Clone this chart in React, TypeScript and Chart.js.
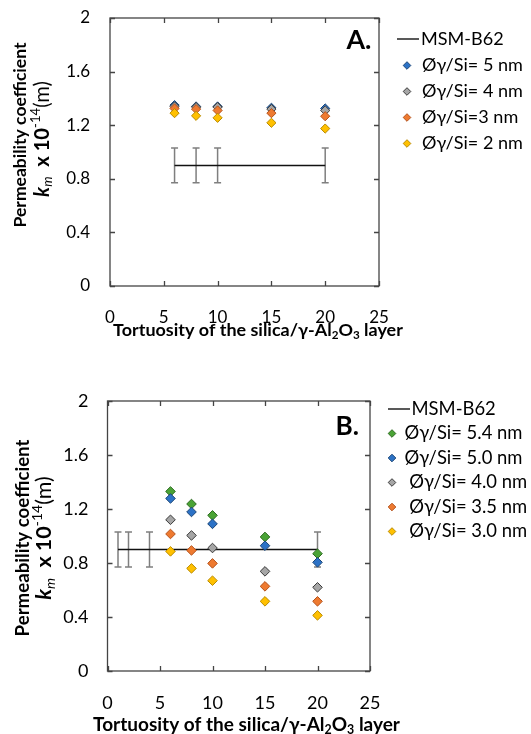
import React, { useEffect, useRef } from 'react';
import { Chart, registerables } from 'chart.js';
Chart.register(...registerables);

// ---------- data ----------
const xTickStep = 5;
const xMax = 25;
const yTickStep = 0.4;
const yMax = 2;

const tortuosityA = [6, 8, 10, 15, 20];
const seriesA_5nm = [1.35, 1.34, 1.34, 1.33, 1.325];
const seriesA_4nm = [1.34, 1.335, 1.335, 1.32, 1.31];
const seriesA_3nm = [1.325, 1.32, 1.31, 1.29, 1.267];
const seriesA_2nm = [1.29, 1.27, 1.255, 1.218, 1.175];
const msmA_x = [6, 8, 10, 20];
const msmA_y = [0.9, 0.9, 0.9, 0.9];
const msmA_err = [0.13, 0.13, 0.13, 0.13];

const tortuosityB = [6, 8, 10, 15, 20];
const seriesB_54 = [1.33, 1.237, 1.153, 0.993, 0.869];
const seriesB_50 = [1.278, 1.178, 1.09, 0.928, 0.805];
const seriesB_40 = [1.12, 1.004, 0.911, 0.738, 0.62];
const seriesB_35 = [1.015, 0.893, 0.797, 0.627, 0.516];
const seriesB_30 = [0.886, 0.76, 0.669, 0.516, 0.412];
const msmB_x = [1, 2, 4, 20];
const msmB_y = [0.9, 0.9, 0.9, 0.9];
const msmB_err = [0.13, 0.13, 0.13, 0.13];

const labelsA = ['Øγ/Si= 5 nm', 'Øγ/Si= 4 nm', 'Øγ/Si=3 nm', 'Øγ/Si= 2 nm'];
const labelsB = ['Øγ/Si= 5.4 nm', 'Øγ/Si= 5.0 nm', ' Øγ/Si= 4.0 nm', ' Øγ/Si= 3.5 nm', ' Øγ/Si= 3.0 nm'];
const msmLabel = 'MSM-B62';

// ---------- styles ----------
const FONT = "Lato, 'Noto Sans', sans-serif";
const COLORS = {
  green: { fill: '#4aa335', stroke: '#2c6a1f' },
  blue: { fill: '#2c72c6', stroke: '#1c4676' },
  gray: { fill: '#a6a6a6', stroke: '#3a3a3a' },
  orange: { fill: '#ee7a30', stroke: '#b4521c' },
  yellow: { fill: '#ffc000', stroke: '#b88a00' },
};

type Seg = { t: string; w: string; style?: string; scale?: number; dy?: number };

function segFont(s: Seg, size: number) {
  return `${s.style || 'normal'} ${s.w} ${(size * (s.scale || 1)).toFixed(2)}px ${FONT}`;
}
function segsWidth(ctx: CanvasRenderingContext2D, segs: Seg[], size: number) {
  let w = 0;
  for (const s of segs) {
    ctx.font = segFont(s, size);
    w += ctx.measureText(s.t).width;
  }
  return w;
}
function fitSize(ctx: CanvasRenderingContext2D, segs: Seg[], target: number) {
  const w = segsWidth(ctx, segs, 20);
  return (20 * target) / w;
}
function drawSegs(ctx: CanvasRenderingContext2D, segs: Seg[], size: number, x: number, y: number, align: 'center' | 'left') {
  const total = segsWidth(ctx, segs, size);
  let cx = align === 'center' ? x - total / 2 : x;
  ctx.textBaseline = 'middle';
  ctx.textAlign = 'left';
  for (const s of segs) {
    ctx.font = segFont(s, size);
    ctx.fillText(s.t, cx, y + (s.dy || 0) * size);
    cx += ctx.measureText(s.t).width;
  }
}

type Series = { label: string; values: number[]; color: { fill: string; stroke: string } };
type Panel = {
  H: number;
  plot: { left: number; right: number; top: number; bottom: number };
  x: number[];
  series: Series[];
  msmX: number[];
  msmY: number[];
  msmErr: number[];
  pointR: number;
  tickFont: number;
  yPad: number;
  xPad: number;
  letter: { t: string; x: number; y: number; w: number };
  xTitle: { x: number; y: number; w: number };
  yTitle1: { x: number; y: number; w: number };
  yTitle2: { x: number; y: number; w: number };
  legend: { rows: number[]; lineX1: number; lineX2: number; msmTextX: number; markerX: number; textX: number; fitLabel: string; fitW: number };
};

const panelA: Panel = {
  H: 367,
  plot: { left: 110, right: 379, top: 18, bottom: 286 },
  x: tortuosityA,
  series: [
    { label: labelsA[0], values: seriesA_5nm, color: COLORS.blue },
    { label: labelsA[1], values: seriesA_4nm, color: COLORS.gray },
    { label: labelsA[2], values: seriesA_3nm, color: COLORS.orange },
    { label: labelsA[3], values: seriesA_2nm, color: COLORS.yellow },
  ],
  msmX: msmA_x,
  msmY: msmA_y,
  msmErr: msmA_err,
  pointR: 4.6,
  tickFont: 17,
  yPad: 20,
  xPad: 21,
  letter: { t: 'A.', x: 346.5, y: 40, w: 25 },
  xTitle: { x: 258, y: 330, w: 290 },
  yTitle1: { x: 20, y: 135, w: 185 },
  yTitle2: { x: 42, y: 139, w: 148 },
  legend: { rows: [39, 65.5, 91.5, 117.5, 143.5], lineX1: 397, lineX2: 419, msmTextX: 421, markerX: 407, textX: 422, fitLabel: 'Øγ/Si= 5 nm', fitW: 101 },
};

const panelB: Panel = {
  H: 367,
  plot: { left: 107.5, right: 370, top: 34, bottom: 304 },
  x: tortuosityB,
  series: [
    { label: labelsB[0], values: seriesB_54, color: COLORS.green },
    { label: labelsB[1], values: seriesB_50, color: COLORS.blue },
    { label: labelsB[2], values: seriesB_40, color: COLORS.gray },
    { label: labelsB[3], values: seriesB_35, color: COLORS.orange },
    { label: labelsB[4], values: seriesB_30, color: COLORS.yellow },
  ],
  msmX: msmB_x,
  msmY: msmB_y,
  msmErr: msmB_err,
  pointR: 4.8,
  tickFont: 18,
  yPad: 19,
  xPad: 21,
  letter: { t: 'B.', x: 335.5, y: 59.5, w: 23.5 },
  xTitle: { x: 246.5, y: 358, w: 307 },
  yTitle1: { x: 22.5, y: 171, w: 197 },
  yTitle2: { x: 44, y: 171, w: 145 },
  legend: { rows: [42, 66.5, 91, 115.5, 140, 164.5], lineX1: 388, lineX2: 410, msmTextX: 411.5, markerX: 392, textX: 404.5, fitLabel: 'Øγ/Si= 5.4 nm', fitW: 118 },
};

function diamond(ctx: CanvasRenderingContext2D, x: number, y: number, r: number, fill: string, stroke: string) {
  ctx.beginPath();
  ctx.moveTo(x, y - r);
  ctx.lineTo(x + r, y);
  ctx.lineTo(x, y + r);
  ctx.lineTo(x - r, y);
  ctx.closePath();
  ctx.fillStyle = fill;
  ctx.fill();
  ctx.lineWidth = 1;
  ctx.strokeStyle = stroke;
  ctx.stroke();
}

function fmtTick(v: number) {
  return String(Number(Number(v).toFixed(1)));
}

function buildConfig(p: Panel): any {
  const W = 531;
  const datasets: any[] = [
    {
      type: 'line',
      label: msmLabel,
      data: p.msmX.map((x, i) => ({ x, y: p.msmY[i] })),
      borderColor: '#111',
      borderWidth: 1.5,
      pointRadius: 0,
      showLine: true,
      fill: false,
      order: 50,
    },
  ];
  p.series.forEach((s, i) => {
    datasets.push({
      type: 'scatter',
      label: s.label,
      data: p.x.map((x, j) => ({ x, y: s.values[j] })),
      pointStyle: 'rectRot',
      pointRadius: p.pointR,
      pointHoverRadius: p.pointR,
      backgroundColor: s.color.fill,
      borderColor: s.color.stroke,
      borderWidth: 1,
      order: 20 - i,
    });
  });

  const decor = {
    id: 'decor',
    beforeDatasetsDraw(chart: any) {
      const ctx: CanvasRenderingContext2D = chart.ctx;
      const xs = chart.scales.x;
      const ys = chart.scales.y;
      ctx.save();
      ctx.strokeStyle = '#7f7f7f';
      ctx.lineWidth = 1.5;
      p.msmX.forEach((xv, i) => {
        const px = xs.getPixelForValue(xv);
        const t = ys.getPixelForValue(p.msmY[i] + p.msmErr[i]);
        const b = ys.getPixelForValue(p.msmY[i] - p.msmErr[i]);
        ctx.beginPath();
        ctx.moveTo(px, t);
        ctx.lineTo(px, b);
        ctx.moveTo(px - 3.5, t);
        ctx.lineTo(px + 3.5, t);
        ctx.moveTo(px - 3.5, b);
        ctx.lineTo(px + 3.5, b);
        ctx.stroke();
      });
      ctx.restore();
    },
    afterDraw(chart: any) {
      const ctx: CanvasRenderingContext2D = chart.ctx;
      const a = chart.chartArea;
      const xs = chart.scales.x;
      const ys = chart.scales.y;
      ctx.save();
      // box
      ctx.strokeStyle = '#444';
      ctx.lineWidth = 1.3;
      ctx.strokeRect(a.left, a.top, a.right - a.left, a.bottom - a.top);
      // inward ticks on four sides
      ctx.beginPath();
      for (let v = 0; v <= xMax + 1e-9; v += xTickStep) {
        const px = Math.round(xs.getPixelForValue(v)) + 0.5;
        ctx.moveTo(px, a.bottom);
        ctx.lineTo(px, a.bottom - 5);
        ctx.moveTo(px, a.top);
        ctx.lineTo(px, a.top + 5);
      }
      for (let k = 0; k * yTickStep <= yMax + 1e-9; k++) {
        const py = Math.round(ys.getPixelForValue(k * yTickStep)) + 0.5;
        ctx.moveTo(a.left, py);
        ctx.lineTo(a.left + 5, py);
        ctx.moveTo(a.right, py);
        ctx.lineTo(a.right - 5, py);
      }
      ctx.stroke();

      ctx.fillStyle = '#000';
      // panel letter
      const letterSeg: Seg[] = [{ t: p.letter.t, w: 'bold' }];
      const ls = fitSize(ctx, letterSeg, p.letter.w);
      drawSegs(ctx, letterSeg, ls, p.letter.x, p.letter.y, 'left');

      // x title
      const xt: Seg[] = [
        { t: 'Tortuosity of the silica/γ-Al', w: 'bold' },
        { t: '2', w: 'bold', scale: 0.65, dy: 0.28 },
        { t: 'O', w: 'bold' },
        { t: '3', w: 'bold', scale: 0.65, dy: 0.28 },
        { t: ' layer', w: 'bold' },
      ];
      drawSegs(ctx, xt, fitSize(ctx, xt, p.xTitle.w), p.xTitle.x, p.xTitle.y, 'center');

      // y title (rotated)
      const y1: Seg[] = [{ t: 'Permeability coefficient', w: 'bold' }];
      const y2: Seg[] = [
        { t: 'k', w: 'bold', style: 'italic' },
        { t: 'm', w: 'normal', style: 'italic', scale: 0.65, dy: 0.28 },
        { t: '  x 10', w: 'bold' },
        { t: '-14', w: 'normal', scale: 0.65, dy: -0.3 },
        { t: '(m)', w: 'normal' },
      ];
      const s1 = fitSize(ctx, y1, p.yTitle1.w);
      const s2 = Math.min(fitSize(ctx, y2, p.yTitle2.w), s1 * 1.15);
      ctx.save();
      ctx.translate(p.yTitle1.x, p.yTitle1.y);
      ctx.rotate(-Math.PI / 2);
      drawSegs(ctx, y1, s1, 0, 0, 'center');
      ctx.restore();
      ctx.save();
      ctx.translate(p.yTitle2.x, p.yTitle2.y);
      ctx.rotate(-Math.PI / 2);
      drawSegs(ctx, y2, s2, 0, 0, 'center');
      ctx.restore();

      // legend
      const L = p.legend;
      const lsz = fitSize(ctx, [{ t: L.fitLabel, w: 'normal' }], L.fitW);
      ctx.strokeStyle = '#222';
      ctx.lineWidth = 1.5;
      ctx.beginPath();
      ctx.moveTo(L.lineX1, L.rows[0]);
      ctx.lineTo(L.lineX2, L.rows[0]);
      ctx.stroke();
      ctx.fillStyle = '#000';
      drawSegs(ctx, [{ t: msmLabel, w: 'normal' }], lsz, L.msmTextX, L.rows[0], 'left');
      p.series.forEach((s, i) => {
        const y = L.rows[i + 1];
        diamond(ctx, L.markerX, y, 3.8, s.color.fill, s.color.stroke);
        ctx.fillStyle = '#000';
        drawSegs(ctx, [{ t: s.label, w: 'normal' }], lsz, L.textX, y, 'left');
      });
      ctx.restore();
    },
  };

  return {
    type: 'scatter',
    data: { datasets },
    options: {
      responsive: false,
      animation: false,
      devicePixelRatio: 1,
      layout: { padding: { left: 0, right: W - p.plot.right, top: p.plot.top, bottom: 0 } },
      plugins: { legend: { display: false }, tooltip: { enabled: false }, title: { display: false } },
      scales: {
        x: {
          type: 'linear',
          min: 0,
          max: xMax,
          ticks: { stepSize: xTickStep, color: '#000', font: { family: FONT, size: p.tickFont }, padding: p.xPad, maxRotation: 0 },
          grid: { display: true, drawOnChartArea: false, drawTicks: false },
          border: { display: false },
          afterFit: (s: any) => {
            s.height = p.H - p.plot.bottom;
            s.paddingLeft = 0;
            s.paddingRight = 0;
          },
        },
        y: {
          type: 'linear',
          min: 0,
          max: yMax,
          ticks: { stepSize: yTickStep, color: '#000', font: { family: FONT, size: p.tickFont }, padding: p.yPad, callback: (v: any) => fmtTick(v) },
          grid: { display: true, drawOnChartArea: false, drawTicks: false },
          border: { display: false },
          afterFit: (s: any) => {
            s.width = p.plot.left;
            s.paddingTop = 0;
            s.paddingBottom = 0;
          },
        },
      },
    },
    plugins: [decor],
  };
}

function PanelChart({ panel, top }: { panel: Panel; top: number }) {
  const ref = useRef<HTMLCanvasElement>(null);
  useEffect(() => {
    const chart = new Chart(ref.current as HTMLCanvasElement, buildConfig(panel));
    return () => chart.destroy();
  }, []);
  return (
    <canvas
      ref={ref}
      width={531}
      height={panel.H}
      style={{ position: 'absolute', left: 0, top, width: 531, height: panel.H, display: 'block' }}
    />
  );
}

export default function App() {
  return (
    <div style={{ position: 'absolute', left: 0, top: 0, width: 531, height: 734, background: '#fff', overflow: 'hidden' }}>
      <PanelChart panel={panelA} top={0} />
      <PanelChart panel={panelB} top={367} />
    </div>
  );
}
